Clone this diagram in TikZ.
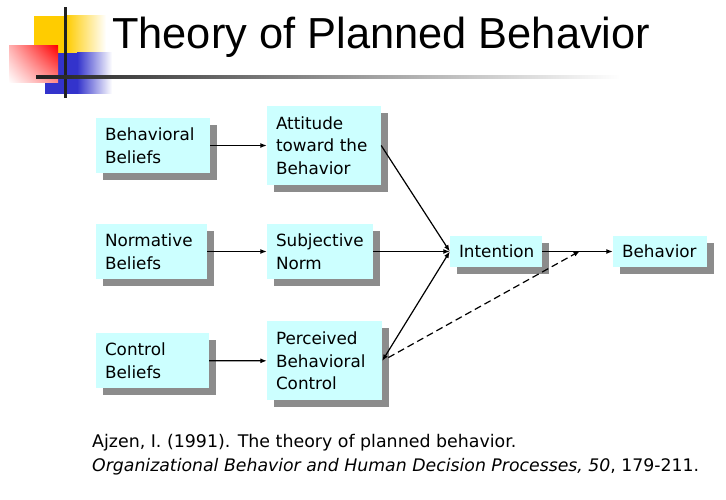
\documentclass[tikz,border=0pt]{standalone}
\usepackage{fontspec}
\setmainfont{DejaVu Sans}
\newfontfamily\titlefont{Liberation Sans}
\usetikzlibrary{arrows.meta,shadows,shadings}
\definecolor{boxcyan}{HTML}{CCFFFF}
\definecolor{shadowgray}{HTML}{8C8C8C}
\definecolor{decoyellow}{HTML}{FFCC00}
\definecolor{decoblue}{HTML}{3333CC}
\tikzset{
    >={Latex[length=6.5pt,width=5pt]},
    box/.style={rectangle, fill=boxcyan, inner xsep=9pt, inner ysep=3pt,
        align=left, font=\fontsize{16.8}{22.5}\selectfont,
        general shadow={fill=shadowgray, shadow xshift=7pt, shadow yshift=-7pt}},
    twoline/.style={box, minimum height=55pt},
    threeline/.style={box, minimum height=79pt},
    oneline/.style={box, minimum height=31pt},
    link/.style={->, line width=1.2pt},
}
\begin{document}
\begin{tikzpicture}[x=1pt,y=1pt]
    \path[use as bounding box] (0,0) rectangle (726,500);
    % corner decoration
    \fill[decoyellow] (34,447) rectangle (66,484);
    \shade[left color=decoyellow, right color=white] (66,447) rectangle (106,484);
    \fill[decoblue] (45,406) rectangle (77,447);
    \shade[left color=decoblue, right color=white] (77,406) rectangle (112,447);
    \shade[upper right=red, lower left=white, upper left=red!30, lower right=red!45]
        (9,417) rectangle (58,454);
    \fill[black!87] (64,402) rectangle (67,493);
    \shade[left color=black!87, right color=white] (36,421.5) rectangle (620,424.5);
    % title
    \node[anchor=base west, inner sep=0pt, font=\titlefont\fontsize{43.4}{50}\selectfont]
        (title) at (112,451) {Theory of Planned Behavior};
    % boxes
    \node[twoline, text width=96pt] (bb) at (153,354.5) {Behavioral\\Beliefs};
    \node[threeline, text width=96pt] (att) at (324,354.5) {Attitude\\toward the\\Behavior};
    \node[twoline, text width=93pt] (nb) at (151.5,248.5) {Normative\\Beliefs};
    \node[twoline, text width=88pt] (sn) at (320,248.5) {Subjective\\Norm};
    \node[twoline, text width=95pt] (cb) at (152.5,139.5) {Control\\Beliefs};
    \node[threeline, text width=97pt] (pbc) at (324.5,139) {Perceived\\Behavioral\\Control};
    \node[oneline, text width=74pt] (int) at (496,248.5) {Intention};
    \node[oneline, text width=76pt] (beh) at (660,248.5) {Behavior};
    \coordinate (pbcend) at (580,249);
    % arrows
    \draw[link] (bb) -- (att);
    \draw[link] (nb) -- (sn);
    \draw[link] (cb) -- (pbc);
    \draw[link] (att.east) -- (int.west);
    \draw[link] (sn) -- (int);
    \draw[link, <->] (pbc.east) -- (int.west);
    \draw[link] (int) -- (beh);
    \draw[->, line width=1.2pt, dash pattern=on 7pt off 4pt, shorten <=7pt] (pbc.east) -- (pbcend);
    % reference
    \node[anchor=base west, inner sep=0pt, font=\fontsize{17.4}{22}\selectfont]
        (ref1) at (92,52) {Ajzen, I. (1991). The theory of planned behavior.};
    \node[anchor=base west, inner sep=0pt, font=\fontsize{17.3}{22}\selectfont]
        (ref2) at (92,28) {\textit{Organizational Behavior and Human Decision Processes, 50}, 179-211.};
\end{tikzpicture}
\end{document}
